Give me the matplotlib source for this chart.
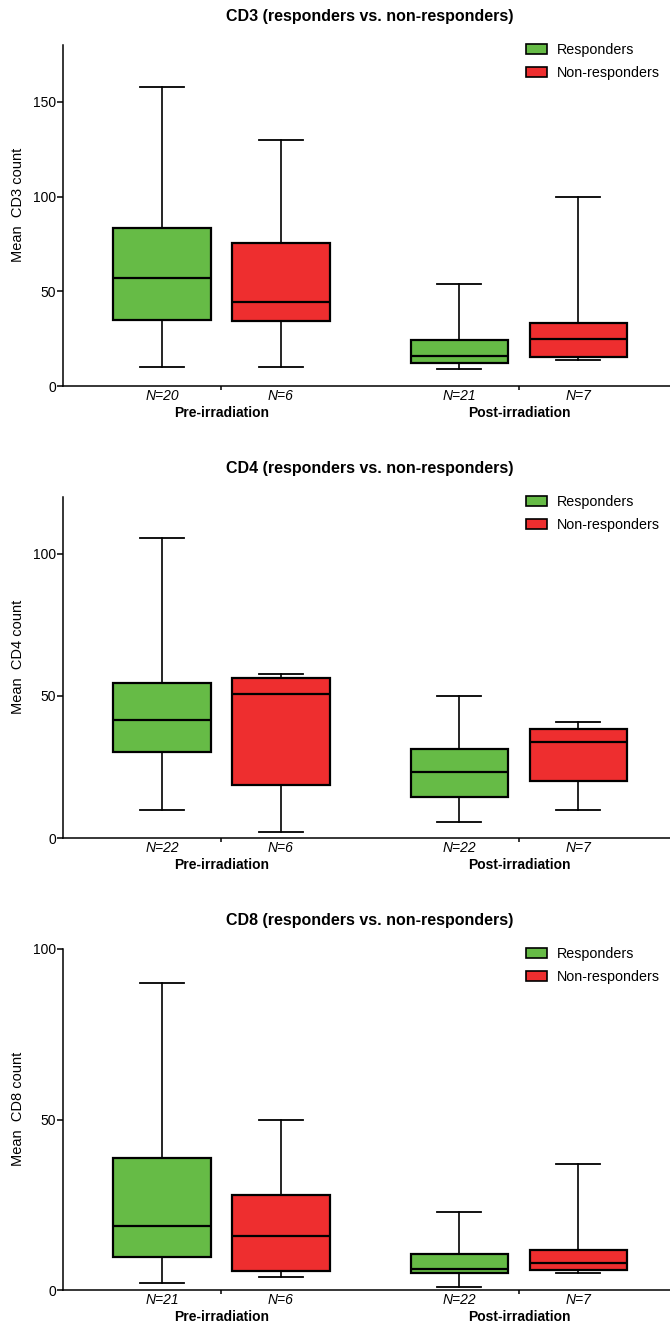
import matplotlib
matplotlib.use('Agg')
import matplotlib.pyplot as plt
from matplotlib.patches import Patch
import matplotlib.transforms as mtransforms

plt.rcParams['font.family'] = ['Liberation Sans', 'DejaVu Sans']

# --- Data ---
group_labels = ['Pre-irradiation', 'Post-irradiation']
series_labels = ['Responders', 'Non-responders']
box_colors = ['#66bb46', '#ee2e2f']

# order in each list: R pre, NR pre, R post, NR post
cd3_n = [20, 6, 21, 7]
cd3_whislo = [10, 10, 8.8, 13.9]
cd3_q1 = [34.8, 34.3, 12.3, 15.1]
cd3_med = [57, 44.3, 16, 25]
cd3_q3 = [83.4, 75.5, 24.4, 33.4]
cd3_whishi = [158, 129.8, 53.8, 99.7]

cd4_n = [22, 6, 22, 7]
cd4_whislo = [9.8, 2.1, 5.7, 9.7]
cd4_q1 = [30.2, 18.6, 14.6, 20]
cd4_med = [41.4, 50.5, 23.2, 33.8]
cd4_q3 = [54.7, 56.4, 31.3, 38.4]
cd4_whishi = [105.7, 57.8, 49.8, 40.7]

cd8_n = [21, 6, 22, 7]
cd8_whislo = [2, 3.9, 0.9, 5.1]
cd8_q1 = [9.8, 5.6, 5.0, 6.0]
cd8_med = [18.9, 15.9, 6.3, 7.9]
cd8_q3 = [38.6, 27.9, 10.6, 11.6]
cd8_whishi = [90, 50, 22.9, 36.9]

panels = [
    ('CD3', cd3_n, cd3_whislo, cd3_q1, cd3_med, cd3_q3, cd3_whishi, 180, [0, 50, 100, 150]),
    ('CD4', cd4_n, cd4_whislo, cd4_q1, cd4_med, cd4_q3, cd4_whishi, 120, [0, 50, 100]),
    ('CD8', cd8_n, cd8_whislo, cd8_q1, cd8_med, cd8_q3, cd8_whishi, 100, [0, 50, 100]),
]

positions = [1, 2, 3.5, 4.5]
group_pos = [1.5, 4.0]

W, H = 670, 1329
fig = plt.figure(figsize=(W / 100, H / 100), dpi=100)

# pixel extents of each axes: (top, bottom)
axes_px = [(45, 386), (497, 838), (949, 1290)]
title_px = [17, 468, 920]
left_px, right_px = 63, 670

for (name, n, lo, q1, med, q3, hi, ymax, yticks), (top, bot), ty in zip(panels, axes_px, title_px):
    ax = fig.add_axes([left_px / W, 1 - bot / H, (right_px - left_px) / W, (bot - top) / H])

    stats = []
    for i in range(4):
        stats.append({'whislo': lo[i], 'q1': q1[i], 'med': med[i], 'q3': q3[i],
                      'whishi': hi[i], 'fliers': []})

    bp = ax.bxp(stats, positions=positions, widths=0.82, capwidths=0.37,
                patch_artist=True, showfliers=False,
                boxprops=dict(linewidth=1.6, edgecolor='black'),
                medianprops=dict(color='black', linewidth=1.6),
                whiskerprops=dict(color='black', linewidth=1.2),
                capprops=dict(color='black', linewidth=1.3))
    for i, box in enumerate(bp['boxes']):
        box.set_facecolor(box_colors[i % 2])

    ax.set_xlim(0.168, 5.27)
    ax.set_ylim(0, ymax)
    ax.set_yticks(yticks)
    ax.set_xticks(group_pos)
    ax.set_xticklabels([])
    ax.spines['top'].set_visible(False)
    ax.spines['right'].set_visible(False)
    ax.spines['left'].set_linewidth(1.1)
    ax.spines['bottom'].set_linewidth(1.1)
    ax.tick_params(axis='y', direction='out', length=4, width=1.1, labelsize=10, pad=1)
    ax.tick_params(axis='x', direction='out', length=3, width=1.1)

    ax.set_ylabel('Mean  %s count' % name, fontsize=10.5)
    ax.yaxis.set_label_coords(-(left_px - 25) / (right_px - left_px), 0.53)

    trans = mtransforms.blended_transform_factory(ax.transData, ax.transAxes)
    h_ax = bot - top
    for p, nn in zip(positions, n):
        ax.text(p, -10 / h_ax, 'N=%d' % nn, transform=trans, ha='center', va='center',
                fontsize=10, style='italic')
    for p, g in zip(group_pos, group_labels):
        ax.text(p, -27 / h_ax, g, transform=trans, ha='center', va='center',
                fontsize=10, fontweight='bold')

    fig.text(370 / W, 1 - ty / H, '%s (responders vs. non-responders)' % name,
             ha='center', va='center', fontsize=11.5, fontweight='bold')

    handles = [Patch(facecolor=c, edgecolor='black', linewidth=1.2) for c in box_colors]
    ax.legend(handles, series_labels, loc='upper left', frameon=False, fontsize=10.3,
              bbox_to_anchor=((526 - left_px) / (right_px - left_px), 1 + 2 / h_ax),
              borderpad=0, borderaxespad=0, handlelength=1.45, handleheight=0.65,
              handletextpad=0.7, labelspacing=0.65)

fig.savefig('out.png', dpi=100)
